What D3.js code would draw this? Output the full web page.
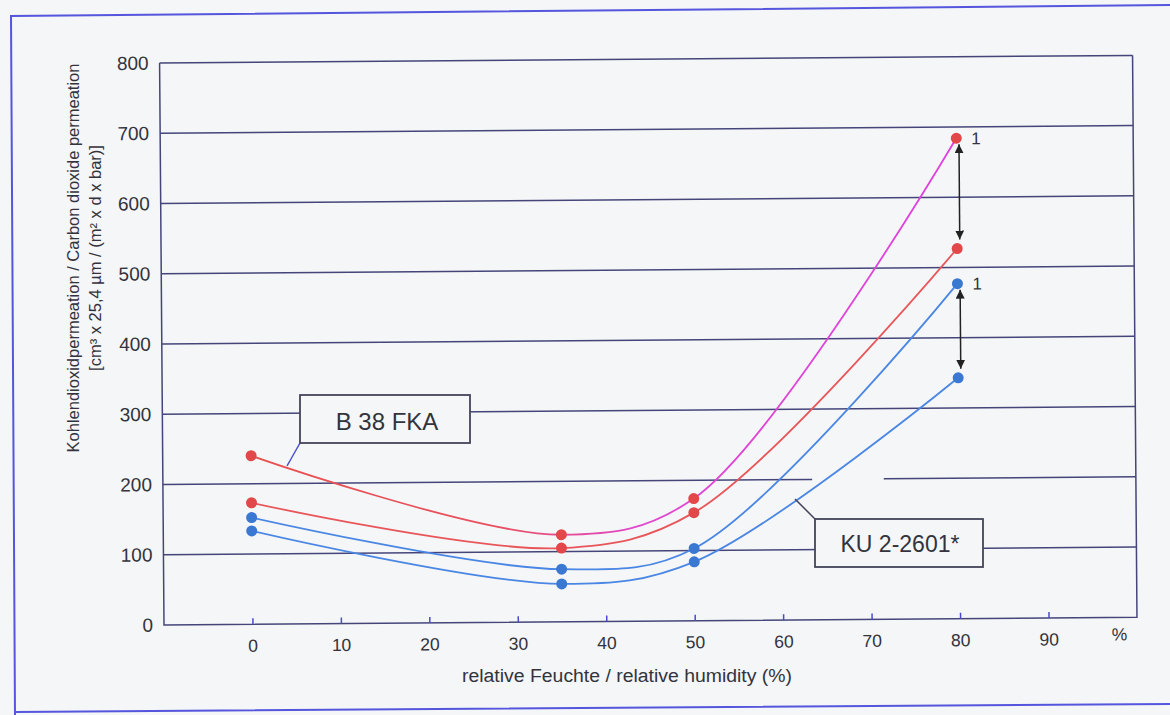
<!DOCTYPE html>
<html>
<head>
<meta charset="utf-8">
<script src="https://cdn.jsdelivr.net/npm/d3@7"></script>
<style>
  body { margin: 0; background: #f4f6f7; }
  svg { display: block; font-family: "Liberation Sans", Arial, sans-serif; }
</style>
</head>
<body>
<svg id="chart" width="1170" height="715"></svg>
<script>
// values
const humidity = [0, 35, 50, 80]
const redTop = [240, 124, 174, 684]   // B 38 FKA, sample 1
const redLow = [173, 105, 154, 527]   // B 38 FKA
const blueTop = [152, 75, 103, 477]   // KU 2-2601*, sample 1
const blueLow = [133, 54, 84, 343]    // KU 2-2601*
const xTicks = [0, 10, 20, 30, 40, 50, 60, 70, 80, 90]
const yTicks = [0, 100, 200, 300, 400, 500, 600, 700, 800]

const svg = d3.select('#chart')
const bg = '#f4f6f7'
const gridColor = '#45457a'
const textColor = '#33333d'

svg.append('rect').attr('width', 1170).attr('height', 715).attr('fill', bg)

// outer frame of the scan
svg.append('path')
    .attr('d', 'M1175,5 L11,16 L15,716 M15,712 L1175,704')
    .attr('fill', 'none').attr('stroke', '#5555dd').attr('stroke-width', 2)

// the scan is tilted a little, so the plot is drawn rotated
const g = svg.append('g').attr('transform', 'rotate(-0.45,164,625)')

const x = d3.scaleLinear().domain([-10, 100]).range([164, 1137])
const y = d3.scaleLinear().domain([0, 800]).range([625, 63])

// horizontal grid lines (the 200 line has a gap on the right)
yTicks.filter(d => d > 0).forEach(d => {
    const segs = d === 200 ? [[-10, 63.4], [71.5, 100]] : [[-10, 100]]
    segs.forEach(s => {
        g.append('line')
            .attr('x1', x(s[0])).attr('x2', x(s[1]))
            .attr('y1', y(d)).attr('y2', y(d))
            .attr('stroke', gridColor).attr('stroke-width', 1.5)
    })
})

// frame lines of the plot
g.append('path')
    .attr('d', `M${x(-10)},${y(800)} L${x(-10)},${y(0)} L${x(100)},${y(0)} L${x(100)},${y(800)}`)
    .attr('fill', 'none').attr('stroke', gridColor).attr('stroke-width', 1.5)

// y axis labels
const yAxis = d3.axisLeft(y).tickValues(yTicks).tickSize(0).tickPadding(11)
g.append('g').attr('transform', `translate(${x(-10)},0)`).call(yAxis)
    .call(a => a.select('.domain').remove())
    .selectAll('text').attr('font-size', 19).attr('fill', textColor)
    .attr('font-family', '"Liberation Sans", Arial, sans-serif')

// x axis ticks point up
const xAxis = d3.axisBottom(x).tickValues(xTicks).tickSizeInner(-6).tickSizeOuter(0).tickPadding(15)
const xg = g.append('g').attr('transform', `translate(0,${y(0)})`).call(xAxis)
xg.select('.domain').remove()
xg.selectAll('line').attr('stroke', '#4a4ad0').attr('stroke-width', 1.5)
xg.selectAll('text').attr('font-size', 17.5).attr('fill', textColor)
    .attr('font-family', '"Liberation Sans", Arial, sans-serif')
g.append('text').attr('x', x(98)).attr('y', y(0) + 23).attr('text-anchor', 'middle')
    .attr('font-size', 17.5).attr('fill', textColor).text('%')

// gradient for the top red line (red turning magenta)
const defs = svg.append('defs')
const grad = defs.append('linearGradient').attr('id', 'pinkGrad')
    .attr('gradientUnits', 'userSpaceOnUse')
    .attr('x1', x(0)).attr('x2', x(80)).attr('y1', 0).attr('y2', 0)
grad.append('stop').attr('offset', '0%').attr('stop-color', '#e8504e')
grad.append('stop').attr('offset', '35%').attr('stop-color', '#e85060')
grad.append('stop').attr('offset', '55%').attr('stop-color', '#e048d0')
grad.append('stop').attr('offset', '100%').attr('stop-color', '#e040e0')

defs.append('marker').attr('id', 'head')
    .attr('viewBox', '0 0 10 10').attr('refX', 10).attr('refY', 5)
    .attr('markerWidth', 9).attr('markerHeight', 9).attr('markerUnits', 'userSpaceOnUse')
    .attr('orient', 'auto-start-reverse')
    .append('path').attr('d', 'M0,0 L10,5 L0,10 Z').attr('fill', '#222')

const series = [
    { vals: redTop, line: 'url(#pinkGrad)', dot: '#e2474a' },
    { vals: redLow, line: '#e8565a', dot: '#e2474a' },
    { vals: blueTop, line: '#4a86e4', dot: '#3a78d2' },
    { vals: blueLow, line: '#4a86e4', dot: '#3a78d2' }
]

const line = d3.line()
    .x((d, i) => x(humidity[i]))
    .y(d => y(d))
    .curve(d3.curveCatmullRom.alpha(0.5))

series.forEach(s => {
    g.append('path').attr('d', line(s.vals))
        .attr('fill', 'none').attr('stroke', s.line).attr('stroke-width', 1.8)
    g.selectAll(null).data(s.vals).enter().append('circle')
        .attr('cx', (d, i) => x(humidity[i])).attr('cy', d => y(d))
        .attr('r', 5.5).attr('fill', s.dot)
})

// double arrows between the pairs at 80 %
const arrows = [[redTop[3], redLow[3]], [blueTop[3], blueLow[3]]]
arrows.forEach(a => {
    g.append('line')
        .attr('x1', x(80.3)).attr('x2', x(80.3))
        .attr('y1', y(a[0]) + 6).attr('y2', y(a[1]) - 9)
        .attr('stroke', '#222').attr('stroke-width', 1.5)
        .attr('marker-start', 'url(#head)').attr('marker-end', 'url(#head)')
    g.append('text').attr('x', x(81.7)).attr('y', y(a[0]) + 6)
        .attr('font-size', 17).attr('fill', textColor).text('1')
})

// axis titles
svg.append('text').attr('x', 627).attr('y', 682).attr('text-anchor', 'middle')
    .attr('font-size', 18).attr('fill', textColor)
    .attr('textLength', 330).attr('lengthAdjust', 'spacingAndGlyphs')
    .text('relative Feuchte / relative humidity (%)')

svg.append('text').attr('transform', 'translate(79,258) rotate(-90)').attr('text-anchor', 'middle')
    .attr('font-size', 16.5).attr('fill', textColor)
    .text('Kohlendioxidpermeation / Carbon dioxide permeation')
svg.append('text').attr('transform', 'translate(101,258) rotate(-90)').attr('text-anchor', 'middle')
    .attr('font-size', 16.5).attr('fill', textColor)
    .text('[cm³ x 25,4 µm / (m² x d x bar)]')

// label boxes with leader lines
svg.append('line').attr('x1', 300).attr('y1', 443).attr('x2', 287).attr('y2', 466)
    .attr('stroke', '#4a50d0').attr('stroke-width', 1.5)
svg.append('rect').attr('x', 300).attr('y', 395).attr('width', 170).attr('height', 48)
    .attr('fill', bg).attr('stroke', '#44445a').attr('stroke-width', 1.8)
svg.append('text').attr('x', 387).attr('y', 430).attr('text-anchor', 'middle')
    .attr('font-size', 24).attr('fill', textColor).text('B 38 FKA')

svg.append('line').attr('x1', 815).attr('y1', 519).attr('x2', 795).attr('y2', 499)
    .attr('stroke', '#44445a').attr('stroke-width', 1.5)
svg.append('rect').attr('x', 815).attr('y', 519).attr('width', 168).attr('height', 48)
    .attr('fill', bg).attr('stroke', '#44445a').attr('stroke-width', 1.8)
svg.append('text').attr('x', 900).attr('y', 552).attr('text-anchor', 'middle')
    .attr('font-size', 23).attr('fill', textColor).text('KU 2-2601*')
</script>
</body>
</html>
